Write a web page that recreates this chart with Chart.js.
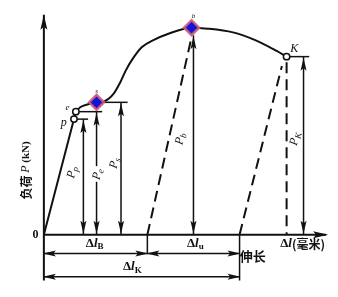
<!DOCTYPE html>
<html><head><meta charset="utf-8">
<script src="https://cdn.jsdelivr.net/npm/chart.js@4.4.1/dist/chart.umd.min.js"></script>
<style>html,body{margin:0;padding:0;background:#fff;}canvas{display:block;}</style>
</head><body>
<canvas id="c" width="338" height="297"></canvas>
<script>
// ---- data (elongation Δl, load P; arbitrary units) ----
const elasticX = [0, 1.6, 1.7];
const elasticP = [0, 12.4, 13.2];
const plasticX = [1.7, 1.95, 2.35, 2.8, 3.2, 3.7, 4.05, 4.35, 4.7, 5.2, 5.85, 6.55, 7.85, 8.7, 10.05, 11.2, 12.2, 12.9];
const plasticP = [13.2, 13.7, 14.0, 14.2, 14.3, 15.1, 16.3, 17.6, 18.8, 20.1, 20.9, 21.5, 22.2, 22.1, 21.7, 20.9, 19.9, 19.1];
const keyNames = ['p', 'e', 's', 'b', 'K'];
const keyX = [1.6, 1.7, 2.8, 7.85, 12.9];
const keyP = [12.4, 13.2, 14.2, 22.2, 19.1];
const loadSubs = ['p', 'e', 's', 'b', 'K'];
const loadArrowX = [2.1, 2.8, 4.1, 7.95, 13.8];
const loadArrowTopP = [12.4, 13.2, 14.2, 21.4, 19.1];
const levelStartX = [1.6, 1.7, 2.8, 12.9];
const levelEndX = [2.35, 3.1, 4.45, 14.1];
const levelP = [12.4, 13.2, 14.2, 19.1];
const unloadStartX = [5.5, 10.4];
const unloadEndX = [7.85, 12.65];
const unloadEndP = [21.2, 18.1];
const elongB = 5.5;      // Δl_B end
const elongK = 10.4;     // Δl_K end
const elongSubs = ['B', 'u', 'K'];
const axisMaxX = 15.0;
const axisMaxP = 23.6;

// ---- chart ----
const INK = '#111';
const SERIF = '"Liberation Serif","DejaVu Serif",serif';
const CJK = '"Noto Sans CJK SC","Noto Sans CJK JP",sans-serif';
const pts = (xs, ys) => xs.map((x, i) => ({x, y: ys[i]}));
const line = (data, extra) => Object.assign({data, showLine: true, borderColor: INK, borderWidth: 1.5,
  pointRadius: 0, pointHoverRadius: 0, fill: false, clip: false, tension: 0, order: 5}, extra || {});

const datasets = [];
// axes
datasets.push(line([{x: 0, y: axisMaxP}, {x: 0, y: -4.9}], {borderWidth: 2}));
datasets.push(line([{x: 0, y: 0}, {x: axisMaxX, y: 0}], {borderWidth: 2}));
// curve
datasets.push(line(pts(elasticX, elasticP), {borderWidth: 2}));
datasets.push(line(pts(plasticX, plasticP), {borderWidth: 2, cubicInterpolationMode: 'monotone'}));
// load level lines
levelP.forEach((p, i) => datasets.push(line([{x: levelStartX[i], y: p}, {x: levelEndX[i], y: p}])));
// load arrows (vertical)
loadArrowX.forEach((x, i) => datasets.push(line([{x, y: loadArrowTopP[i]}, {x, y: 0}])));
// unloading dashed lines
unloadStartX.forEach((x, i) => datasets.push(line([{x, y: 0}, {x: unloadEndX[i], y: unloadEndP[i]}], {borderWidth: 2, borderDash: [11, 6]})));
datasets.push(line([{x: keyX[4], y: keyP[4] - 0.6}, {x: keyX[4], y: 0}], {borderWidth: 2, borderDash: [11, 6]}));
// extension lines below axis
datasets.push(line([{x: elongB, y: 0}, {x: elongB, y: -2.1}]));
datasets.push(line([{x: elongK, y: 0}, {x: elongK, y: -4.9}]));
// dimension lines
datasets.push(line([{x: 0, y: -2.0}, {x: elongB, y: -2.0}]));
datasets.push(line([{x: elongB, y: -2.0}, {x: elongK, y: -2.0}]));
datasets.push(line([{x: 0, y: -4.5}, {x: elongK, y: -4.5}]));
// markers
datasets.push({data: [0, 1, 4].map(i => ({x: keyX[i], y: keyP[i]})), showLine: false, pointStyle: 'circle',
  pointRadius: 3.2, pointBackgroundColor: '#fff', pointBorderColor: INK, pointBorderWidth: 1.5, clip: false, order: 0});
datasets.push({data: [2, 3].map(i => ({x: keyX[i], y: keyP[i]})), showLine: false, pointStyle: 'rectRot',
  pointRadius: 7.5, pointBackgroundColor: '#1414d8', pointBorderColor: 'rgba(205,95,120,0.9)', pointBorderWidth: 2.5, clip: false, order: 0});

function arrowHead(ctx, x, y, dx, dy, len, hw) {
  const nx = -dy, ny = dx;
  ctx.beginPath();
  ctx.moveTo(x, y);
  ctx.lineTo(x - dx * len + nx * hw, y - dy * len + ny * hw);
  ctx.lineTo(x - dx * len * 0.8, y - dy * len * 0.8);
  ctx.lineTo(x - dx * len - nx * hw, y - dy * len - ny * hw);
  ctx.closePath();
  ctx.fill();
}
function rich(ctx, parts, x, y, rot, bg) {
  ctx.save();
  ctx.translate(x, y);
  ctx.rotate((rot || 0) * Math.PI / 180);
  let w = 0;
  parts.forEach(p => { ctx.font = p.f; w += ctx.measureText(p.t).width; });
  if (bg) { ctx.fillStyle = '#fff'; ctx.fillRect(-w / 2 - 2, -8, w + 4, 16); }
  ctx.fillStyle = INK; ctx.textBaseline = 'middle'; ctx.textAlign = 'left';
  let cx = -w / 2;
  parts.forEach(p => { ctx.font = p.f; ctx.fillText(p.t, cx, p.dy || 0); cx += ctx.measureText(p.t).width; });
  ctx.restore();
}

const deco = {
  id: 'deco',
  afterDatasetsDraw(chart) {
    const ctx = chart.ctx, X = v => chart.scales.x.getPixelForValue(v), Y = v => chart.scales.y.getPixelForValue(v);
    ctx.save();
    ctx.fillStyle = INK;
    // axis arrows
    arrowHead(ctx, X(0), Y(axisMaxP), 0, -1, 15, 3.5);
    arrowHead(ctx, X(axisMaxX) + 2, Y(0), 1, 0, 15, 3.5);
    // load arrows
    loadArrowX.forEach((x, i) => {
      arrowHead(ctx, X(x), Y(loadArrowTopP[i]) + 1, 0, -1, 13, 3);
      arrowHead(ctx, X(x), Y(0) - 1, 0, 1, 13, 3);
    });
    // dimension arrows
    const A = (x, y, d) => arrowHead(ctx, X(x) + d, Y(y), d, 0, 13, 3);
    A(0, -2.0, -1); A(elongB, -2.0, 1); A(elongB, -2.0, -1); A(elongK, -2.0, 1);
    A(0, -4.5, -1); A(elongK, -4.5, 1);
    // texts
    const B13 = 'bold 13px ' + SERIF, I13 = 'italic bold 13px ' + SERIF, S9 = 'bold 9px ' + SERIF;
    rich(ctx, [{t: '0', f: 'bold 12px ' + SERIF}], X(-0.45), Y(0));
    rich(ctx, [{t: 'Δ', f: B13}, {t: 'l', f: I13}, {t: elongSubs[0], f: S9, dy: 4}], X(2.7), Y(-0.9));
    rich(ctx, [{t: 'Δ', f: B13}, {t: 'l', f: I13}, {t: elongSubs[1], f: S9, dy: 4}], X(8.05), Y(-0.9));
    rich(ctx, [{t: 'Δ', f: B13}, {t: 'l', f: I13}, {t: elongSubs[2], f: S9, dy: 4}], X(4.7), Y(-3.4));
    rich(ctx, [{t: '伸长', f: 'bold 13px ' + CJK}], X(11.1), Y(-2.3));
    rich(ctx, [{t: 'Δ', f: B13}, {t: 'l', f: I13}, {t: '(毫米)', f: 'bold 12px ' + CJK}], X(13.75), Y(-1.0));
    rich(ctx, [{t: '负荷 ', f: 'bold 12px ' + CJK}, {t: 'P', f: 'italic 12px ' + SERIF}, {t: ' (kN)', f: 'bold 11px ' + SERIF}], X(-0.95), Y(6.9), -90);
    // point letters
    rich(ctx, [{t: keyNames[0], f: 'italic 12px ' + SERIF}], X(1.05), Y(12.0));
    rich(ctx, [{t: keyNames[1], f: 'italic 9px ' + SERIF}], X(1.25), Y(13.6));
    rich(ctx, [{t: keyNames[2], f: 'italic 7px ' + SERIF}], X(2.8), Y(15.4));
    rich(ctx, [{t: keyNames[3], f: 'italic 7px ' + SERIF}], X(7.95), Y(23.4));
    rich(ctx, [{t: keyNames[4], f: 'italic 12px ' + SERIF}], X(13.3), Y(19.9));
    // load labels
    const labPos = [[1.5, 6.7], [2.85, 6.5], [3.75, 7.7], [7.25, 10.3], [13.35, 10.3]];
    loadSubs.forEach((s, i) => {
      rich(ctx, [{t: 'P', f: 'italic 12px ' + SERIF}, {t: s, f: 'italic 9px ' + SERIF, dy: 3}],
        X(labPos[i][0]), Y(labPos[i][1]), -78, i === 1);
    });
    ctx.restore();
  }
};

new Chart(document.getElementById('c'), {
  type: 'scatter',
  data: {datasets},
  options: {
    responsive: false, animation: false, devicePixelRatio: 1,
    layout: {padding: 0},
    scales: {
      x: {type: 'linear', min: -1.8, max: 15.1, display: false},
      y: {type: 'linear', min: -5.6, max: 24.1, display: false}
    },
    plugins: {legend: {display: false}, tooltip: {enabled: false}}
  },
  plugins: [deco]
});
</script>
</body></html>
